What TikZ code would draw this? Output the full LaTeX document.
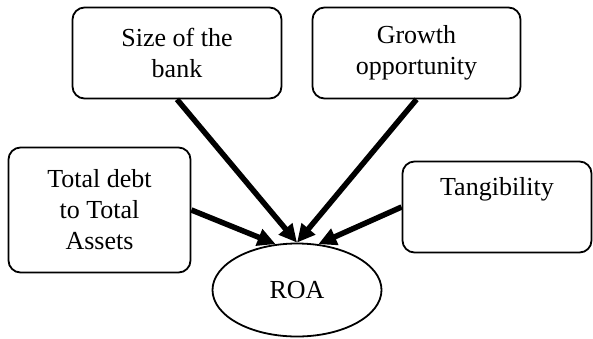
\documentclass[tikz,border=0pt]{standalone}
\usepackage{fontspec}
\setmainfont{Liberation Serif}
\usetikzlibrary{arrows.meta,shapes.geometric}
\begin{document}
\begin{tikzpicture}[x=1pt,y=-1pt]
\tikzstyle{caixa}=[draw=black, line width=1.8pt, rounded corners=12pt, align=center, font=\fontsize{26}{31}\selectfont, inner sep=0]
\tikzstyle{seta}=[line width=5.5pt, -{Triangle[length=18pt,width=17pt]}]
\useasboundingbox(0,0)rectangle(593,338);
\node[caixa, minimum width=209pt, minimum height=91pt](bank)at(177,53){Size of the\\bank};
\node[caixa, minimum width=208pt, minimum height=91pt](growth)at(416.5,53){Growth\\opportunity};
\node[caixa, minimum width=182pt, minimum height=125pt](debt)at(99.5,210){Total debt\\to Total\\Assets};
\node[caixa, minimum width=189pt, minimum height=91pt](tang)at(497,207){Tangibility\\\strut};
\node[ellipse, draw=black, line width=1.8pt, minimum width=169pt, minimum height=93pt, inner sep=0, font=\fontsize{26}{31}\selectfont](roa)at(297,290){ROA};
\draw[seta](bank.south)--(roa.north);
\draw[seta](growth.south)--(roa.north);
\draw[seta](debt.east)--(roa.115);
\draw[seta](tang.west)--(roa.65);
\end{tikzpicture}
\end{document}
